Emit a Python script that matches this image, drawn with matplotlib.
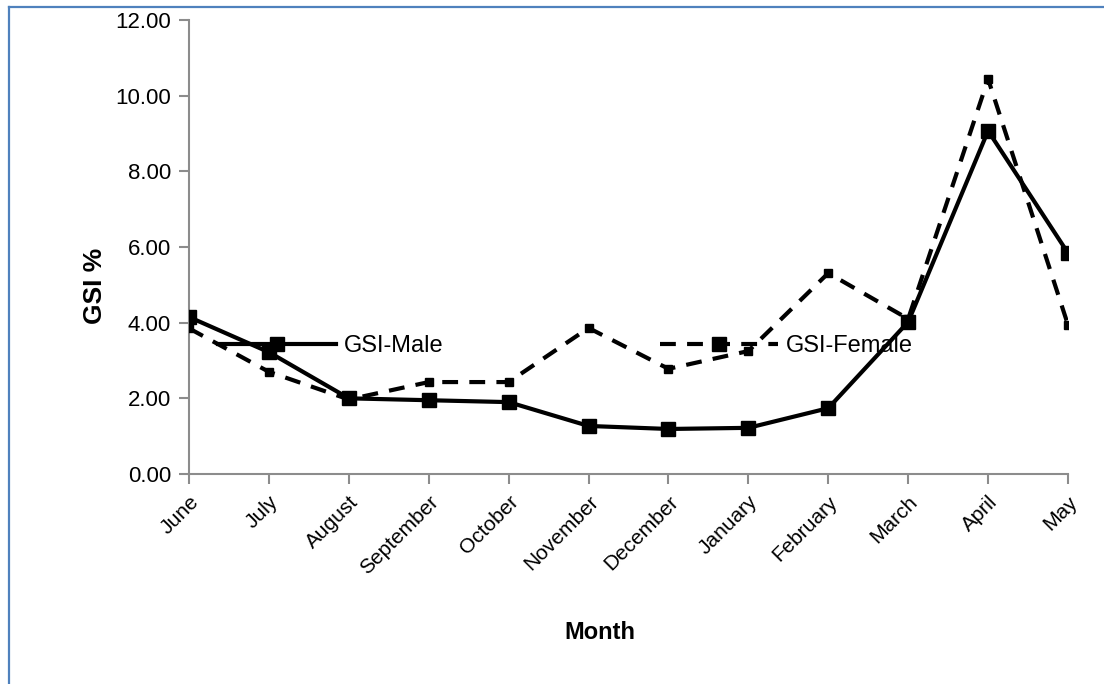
import matplotlib
matplotlib.use("Agg")
import matplotlib.pyplot as plt
from matplotlib.lines import Line2D

plt.rcParams['font.family'] = ['Liberation Sans', 'DejaVu Sans']

months = ["June", "July", "August", "September", "October", "November",
          "December", "January", "February", "March", "April", "May"]
gsi_male = [4.15, 3.22, 2.00, 1.95, 1.90, 1.27, 1.19, 1.22, 1.74, 4.02, 9.07, 5.84]
gsi_female = [3.85, 2.70, 1.97, 2.43, 2.43, 3.86, 2.78, 3.25, 5.31, 4.10, 10.44, 3.94]
y_ticks = [0, 2, 4, 6, 8, 10, 12]

W, H = 1104, 684
fig = plt.figure(figsize=(W / 100, H / 100), dpi=100)
ax = fig.add_axes([189 / W, 1 - 474 / H, (1068 - 189) / W, (474 - 20) / H])

x = list(range(len(months)))
dash = (0, (3.8, 2.7))
ax.plot(x, gsi_female, color='black', lw=3, linestyle=dash,
        marker='s', markersize=6, zorder=3)
ax.plot(x, gsi_male, color='black', lw=3, linestyle='-',
        marker='s', markersize=9.5, zorder=4)

ax.set_xlim(0, len(months) - 1)
ax.set_ylim(0, 12)
ax.set_yticks(y_ticks)
ax.set_yticklabels([f"{v:.2f}" for v in y_ticks], fontsize=16)
ax.set_xticks(x)
ax.set_xticklabels(months, rotation=45, ha='right', rotation_mode='anchor',
                   fontsize=15)

gray = '#8c8c8c'
for side in ('top', 'right'):
    ax.spines[side].set_visible(False)
for side in ('left', 'bottom'):
    ax.spines[side].set_color(gray)
    ax.spines[side].set_linewidth(1.5)
    ax.spines[side].set_zorder(1)
ax.tick_params(axis='both', direction='out', length=7, width=1.5, color=gray)
ax.tick_params(axis='y', pad=6)
ax.tick_params(axis='x', pad=6)

ax.set_ylabel("GSI %", fontsize=19, fontweight='bold')
ax.yaxis.set_label_coords((107 - 189) / 879, (474 - 286) / 454)
ax.set_xlabel("Month", fontsize=17, fontweight='bold')
ax.xaxis.set_label_coords((600 - 189) / 879, (474 - 621) / 454)

# Legend entries placed on one row inside the plot
male_handle = Line2D([], [], color='black', lw=3, linestyle='-',
                     marker='s', markersize=9.5)
female_handle = Line2D([], [], color='black', lw=3, linestyle=dash,
                       marker='s', markersize=9.5)
legend_y = 1 - 346 / H
fs = 17
for handle, label, x0 in ((male_handle, "GSI-Male", 218),
                          (female_handle, "GSI-Female", 660)):
    leg = fig.legend([handle], [label], loc='center left',
                     bbox_to_anchor=(x0 / W, legend_y), frameon=False,
                     fontsize=fs, handlelength=5.0, handletextpad=0.35,
                     borderpad=0, borderaxespad=0, numpoints=1)
    leg.set_zorder(2)

# Outer frame lines along the top and left edges
frame_color = '#4f81bd'
fig.add_artist(Line2D([9 / W, 1], [1 - 7 / H, 1 - 7 / H], color=frame_color,
                      lw=1.6, transform=fig.transFigure))
fig.add_artist(Line2D([9 / W, 9 / W], [0, 1 - 7 / H], color=frame_color,
                      lw=1.6, transform=fig.transFigure))

fig.savefig("out.png", dpi=100, facecolor='white')
